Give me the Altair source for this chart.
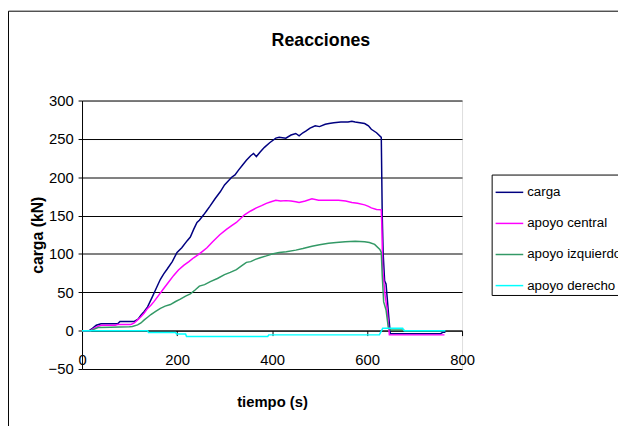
import altair as alt
import pandas as pd

series_names = ["carga", "apoyo central", "apoyo izquierdo", "apoyo derecho"]
series_colors = ["#000080", "#FF00FF", "#339966", "#00FFFF"]

carga_t = [0, 15, 22, 30, 40, 75, 80, 110, 118, 124, 131, 138, 148, 156, 165, 172, 179, 190, 200, 210,
           221, 228, 235, 242, 247, 256, 262, 269, 280, 291, 300, 315, 322, 329, 338, 346, 355, 361, 367,
           375, 384, 395, 408, 415, 429, 440, 450, 457, 465, 471, 480, 491, 500, 512, 520, 530, 545, 560,
           568, 575, 595, 603, 609, 620, 630, 632, 634, 637, 640, 642, 646, 649, 700, 755, 760, 765]
carga_v = [0, 0, 3, 7, 9, 9, 12, 12, 15, 20, 25, 31, 44, 55, 67, 74, 80, 90, 102, 108,
           117, 122, 132, 141, 144, 151, 156, 162, 172, 181, 190, 200, 203, 209, 216, 222, 228, 231, 227,
           233, 239, 245, 251, 252, 251, 255, 257, 254, 258, 260, 264, 267, 266, 269, 270, 271, 272, 272,
           273, 272, 270, 267, 262.5, 258, 252, 150, 100, 65, 61, 46, 16, -4, -4, -4, -2, -2]

central_t = [0, 18, 25, 35, 41, 70, 75, 103, 110, 117, 124, 131, 138, 145, 151, 160, 172, 182, 193, 203,
             214, 225, 235, 247, 255, 263, 275, 290, 304, 315, 325, 342, 355, 367, 378, 388, 398, 408, 418,
             429, 440, 450, 457, 470, 484, 498, 520, 540, 555, 568, 580, 595, 603, 609, 620, 630, 631, 633,
             638, 642, 647, 700, 763]
central_v = [0, 0, 3, 6, 7, 7, 8, 8, 10, 14, 18, 23, 29, 33, 37.5, 45, 55, 63, 72, 79,
             85, 90, 95, 100, 104, 108, 116, 125, 132, 137, 141, 151, 156, 160, 163, 166, 168, 170, 169,
             169.5, 169, 168, 167, 169, 172, 170, 170, 170, 169, 167, 166, 164, 162, 160, 158, 157.5, 140, 80,
             46, 29, -5.5, -5.5, -5.5]

izq_t = [0, 18, 26, 34, 60, 100, 106, 117, 124, 131, 138, 145, 155, 165, 175, 186, 197, 207, 218, 228,
         238, 247, 258, 270, 285, 300, 312, 325, 335, 346, 355, 365, 375, 388, 400, 415, 430, 450, 465,
         484, 500, 519, 535, 554, 575, 595, 605, 616, 627, 630, 632, 635, 640, 645, 650, 675, 680, 763]
izq_v = [0, 0, 2, 4, 4.5, 5, 5.4, 7.5, 10, 14, 17.5, 21, 25, 29, 32, 34, 38, 41, 45, 48,
         53, 58, 60, 64, 68, 73, 76, 79.5, 84, 89, 90, 93, 95, 97.5, 100, 102, 103, 105, 107,
         110, 112, 114, 115, 116, 116.5, 116, 115, 112.5, 106, 102, 72, 37.5, 27, 3, 1, 1, 0, 0]

der_t = [0, 138, 140, 197, 199, 218, 220, 391, 393, 626, 633, 675, 678, 765]
der_v = [0, 0, -2.5, -2.5, -4.5, -4.5, -7.5, -7.5, -5.5, -5.5, 3, 3, 0, 0]

x_ticks = [0, 200, 400, 600, 800]
y_ticks = [-50, 0, 50, 100, 150, 200, 250, 300]
chart_title = "Reacciones"

rows = []
for name, ts, vs in zip(series_names,
                        [carga_t, central_t, izq_t, der_t],
                        [carga_v, central_v, izq_v, der_v]):
    for t, v in zip(ts, vs):
        rows.append({"serie": name, "tiempo": t, "carga": v})
df = pd.DataFrame(rows)
df["orden"] = range(len(df))

FONT = "Liberation Sans"

lines = alt.Chart(df).mark_line(strokeWidth=1.5, interpolate="linear").encode(
    x=alt.X("tiempo:Q",
            scale=alt.Scale(domain=[0, 800], nice=False, zero=False),
            axis=alt.Axis(values=x_ticks, title="tiempo (s)", offset=-38.86, grid=False,
                          domainColor="#000000", tickColor="#000000", tickSize=5,
                          labelFontSize=15, labelPadding=17, labelColor="#000000",
                          labelFont=FONT, labelOverlap=False, labelFlush=False,
                          titleFont=FONT, titleFontSize=15, titleFontWeight="bold",
                          titleColor="#000000", titlePadding=28)),
    y=alt.Y("carga:Q",
            scale=alt.Scale(domain=[-50, 300], nice=False, zero=False),
            axis=alt.Axis(values=y_ticks, title="carga (kN)", grid=True, gridColor="#000000",
                          gridWidth=1, domainColor="#000000", tickColor="#000000", tickSize=4,
                          labelFontSize=15, labelPadding=5, labelColor="#000000",
                          labelFont=FONT, labelOverlap=False, labelFlush=False,
                          titleFont=FONT, titleFontSize=16, titleFontWeight="bold",
                          titleColor="#000000", titlePadding=3)),
    color=alt.Color("serie:N",
                    scale=alt.Scale(domain=series_names, range=series_colors),
                    legend=alt.Legend(title=None, orient="none", legendX=415, legendY=75,
                                      symbolType="stroke", symbolSize=784, symbolStrokeWidth=1.5,
                                      labelFont=FONT, labelFontSize=13.5, labelColor="#000000",
                                      labelOffset=3, rowPadding=9.5, padding=3,
                                      strokeColor="#000000", fillColor="#FFFFFF",
                                      labelLimit=300)),
    detail="serie:N",
    order="orden:Q",
)

one = pd.DataFrame({"a": [0]})
border_v = alt.Chart(one).mark_rule(color="#000000", strokeWidth=1).encode(
    x=alt.value(-74.5), y=alt.value(-90.5), y2=alt.value(400))
border_h = alt.Chart(one).mark_rule(color="#000000", strokeWidth=1).encode(
    x=alt.value(-74.5), x2=alt.value(700), y=alt.value(-90.5))
title_text = alt.Chart(one).mark_text(
    text=chart_title, font=FONT, fontSize=18, fontWeight="bold", color="#000000",
    align="center", baseline="middle").encode(x=alt.value(242), y=alt.value(-60))

chart = alt.layer(lines, border_v, border_h, title_text).properties(
    width=385, height=272,
    padding={"left": 75, "top": 91, "right": 158, "bottom": 55},
    autosize=alt.AutoSizeParams(type="none"),
).configure_view(stroke="#808080", strokeWidth=1).configure(background="#FFFFFF")

chart.save("out.html", embed_options={"renderer": "svg", "actions": False})
